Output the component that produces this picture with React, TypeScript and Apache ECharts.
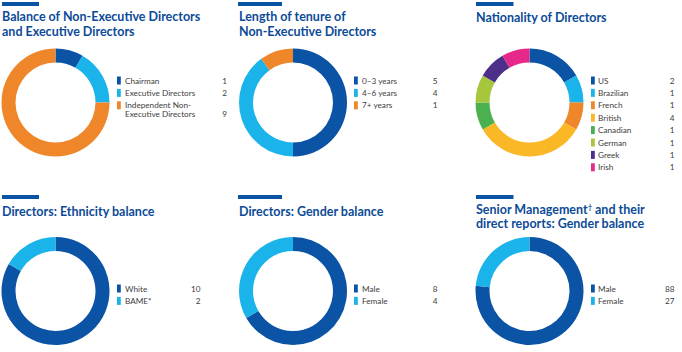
import React, { useEffect, useRef } from "react";
import * as echarts from "echarts";

// ---------- data ----------
const titles1 = ["Balance of Non-Executive Directors", "and Executive Directors"];
const names1 = ["Chairman", "Executive Directors", "Independent Non-\nExecutive Directors"];
const values1 = [1, 2, 9];

const titles2 = ["Length of tenure of", "Non-Executive Directors"];
const names2 = ["0–3 years", "4–6 years", "7+ years"];
const values2 = [5, 4, 1];

const titles3 = ["Nationality of Directors"];
const names3 = ["US", "Brazilian", "French", "British", "Canadian", "German", "Greek", "Irish"];
const values3 = [2, 1, 1, 4, 1, 1, 1, 1];

const titles4 = ["Directors: Ethnicity balance"];
const names4 = ["White", "BAME*"];
const values4 = [10, 2];

const titles5 = ["Directors: Gender balance"];
const names5 = ["Male", "Female"];
const values5 = [8, 4];

const titles6 = ["Senior Management{sup|†} and their", "direct reports: Gender balance"];
const names6 = ["Male", "Female"];
const values6 = [88, 27];

// ---------- styling ----------
const DARK = "#0a53a5";
const LIGHT = "#1bb4ea";
const ORANGE = "#f0862a";
const YELLOW = "#fbb826";
const GREEN = "#4bb04f";
const LIME = "#a6c73c";
const PURPLE = "#4d2f8a";
const PINK = "#e5288a";
const TITLE_COLOR = "#0c4b98";
const TEXT_COLOR = "#404040";

const colors1 = [DARK, LIGHT, ORANGE];
const colors2 = [DARK, LIGHT, ORANGE];
const colors3 = [DARK, LIGHT, ORANGE, YELLOW, GREEN, LIME, PURPLE, PINK];
const colors4 = [DARK, LIGHT];
const colors5 = [DARK, LIGHT];
const colors6 = [DARK, LIGHT];

type Panel = {
  title: string[];
  names: string[];
  values: number[];
  colors: string[];
  barX: number;
  barW: number;
  barY: number;
  titleX: number;
  titleY: number;
  cx: number;
  cy: number;
  markerX: number;
  textX: number;
  valueX: number;
  rowY: number;
};

const panels: Panel[] = [
  { title: titles1, names: names1, values: values1, colors: colors1, barX: 2, barW: 37, barY: 2, titleX: 2, titleY: 16.7, cx: 55.5, cy: 102.5, markerX: 117, textX: 125, valueX: 227, rowY: 80.5 },
  { title: titles2, names: names2, values: values2, colors: colors2, barX: 238, barW: 44, barY: 2, titleX: 239, titleY: 16.7, cx: 293, cy: 102.5, markerX: 354, textX: 362, valueX: 437.5, rowY: 80.5 },
  { title: titles3, names: names3, values: values3, colors: colors3, barX: 476, barW: 37.5, barY: 2, titleX: 476, titleY: 17.5, cx: 529.5, cy: 102.5, markerX: 591, textX: 598, valueX: 674.5, rowY: 80.5 },
  { title: titles4, names: names4, values: values4, colors: colors4, barX: 2, barW: 37, barY: 195, titleX: 2, titleY: 211, cx: 55.5, cy: 291, markerX: 117, textX: 125, valueX: 200.5, rowY: 288.5 },
  { title: titles5, names: names5, values: values5, colors: colors5, barX: 238, barW: 44, barY: 195, titleX: 239, titleY: 211, cx: 293, cy: 291, markerX: 354, textX: 362, valueX: 437.5, rowY: 288.5 },
  { title: titles6, names: names6, values: values6, colors: colors6, barX: 476, barW: 37.5, barY: 195, titleX: 476, titleY: 209.5, cx: 529.5, cy: 291, markerX: 591, textX: 598, valueX: 674.5, rowY: 288.5 },
];

const ROW_GAP = 12.4;
const LINE_H = 9.4;
const TITLE_LH = 14.3;
const FONT = "Lato, 'Open Sans', sans-serif";

export default function App() {
  const ref = useRef<HTMLDivElement>(null);

  useEffect(() => {
    if (!ref.current) return;
    const chart = echarts.init(ref.current, undefined, { renderer: "svg" });

    const series: any[] = panels.map((p) => ({
      type: "pie",
      center: [p.cx, p.cy],
      radius: [40, 54],
      startAngle: 90,
      clockwise: true,
      silent: true,
      label: { show: false },
      labelLine: { show: false },
      emphasis: { disabled: true },
      data: p.names.map((n, i) => ({
        name: n.replace("\n", " "),
        value: p.values[i],
        itemStyle: { color: p.colors[i] },
      })),
    }));

    const txt = (x: number, y: number, text: string, extra: any) => ({
      type: "text",
      silent: true,
      x,
      y,
      style: {
        text,
        fontFamily: FONT,
        textVerticalAlign: "middle",
        verticalAlign: "middle",
        ...extra,
      },
    });

    const graphics: any[] = [];
    panels.forEach((p) => {
      graphics.push({
        type: "rect",
        silent: true,
        shape: { x: p.barX, y: p.barY, width: p.barW, height: 4 },
        style: { fill: DARK },
      });
      p.title.forEach((line, li) => {
        graphics.push(
          txt(p.titleX, p.titleY + li * TITLE_LH, line, {
            fill: TITLE_COLOR,
            fontWeight: "bold",
            fontSize: 12.5,
            textAlign: "left",
            align: "left",
            rich: {
              sup: {
                fontFamily: FONT,
                fontSize: 7,
                fontWeight: "bold",
                fill: TITLE_COLOR,
                color: TITLE_COLOR,
                verticalAlign: "top",
                padding: [0, 0, 5, 0],
              },
            },
          })
        );
      });
      p.names.forEach((n, i) => {
        const y = p.rowY + i * ROW_GAP;
        const lines = n.split("\n");
        const y0 = lines.length > 1 ? y - 0.6 : y;
        graphics.push({
          type: "rect",
          silent: true,
          shape: { x: p.markerX, y: y - 4, width: 3.8, height: 8 },
          style: { fill: p.colors[i] },
        });
        lines.forEach((ln, li) => {
          graphics.push(
            txt(p.textX, y0 + li * LINE_H, ln, {
              fill: TEXT_COLOR,
              fontSize: 8.2,
              textAlign: "left",
              align: "left",
            })
          );
        });
        graphics.push(
          txt(p.valueX, y0 + (lines.length - 1) * LINE_H, String(p.values[i]), {
            fill: TEXT_COLOR,
            fontSize: 8.2,
            textAlign: "right",
            align: "right",
          })
        );
      });
    });

    chart.setOption({
      animation: false,
      backgroundColor: "#ffffff",
      series,
      graphic: { elements: graphics },
    });

    return () => chart.dispose();
  }, []);

  return (
    <div
      ref={ref}
      style={{ position: "fixed", left: 0, top: 0, width: 682, height: 352 }}
    />
  );
}
